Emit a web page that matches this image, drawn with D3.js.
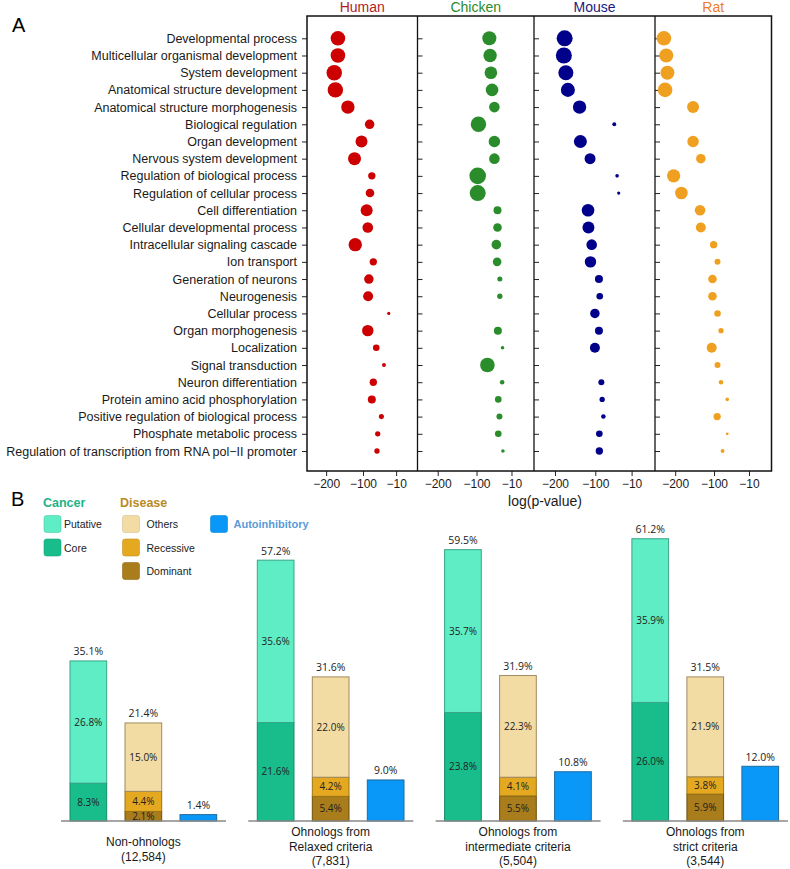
<!DOCTYPE html>
<html><head><meta charset="utf-8">
<script src="https://cdn.jsdelivr.net/npm/d3@7"></script>
<style>body{margin:0;background:#fff}</style>
</head><body>
<svg id="chart" width="790" height="869"></svg>
<script>
// ---------- Panel A data ----------
const categories = [
  "Developmental process","Multicellular organismal development","System development",
  "Anatomical structure development","Anatomical structure morphogenesis","Biological regulation",
  "Organ development","Nervous system development","Regulation of biological process",
  "Regulation of cellular process","Cell differentiation","Cellular developmental process",
  "Intracellular signaling cascade","Ion transport","Generation of neurons","Neurogenesis",
  "Cellular process","Organ morphogenesis","Localization","Signal transduction",
  "Neuron differentiation","Protein amino acid phosphorylation",
  "Positive regulation of biological process","Phosphate metabolic process",
  "Regulation of transcription from RNA pol\u2212II promoter"
];
const species = ["Human","Chicken","Mouse","Rat"];
const humanLogP   = [-168,-168,-178,-175,-141,-82,-104,-123,-76,-81,-90,-87,-121,-72,-84,-86,-30,-87,-64,-43,-72,-76,-50,-60,-62];
const humanSize   = [83,83,93,93,70,35,56,66,21,29,56,44,70,21,35,39,4,51,17,6,21,25,10,11,11];
const chickenLogP = [-67,-65,-63,-60,-54,-95,-54,-54,-97,-97,-46,-46,-49,-47,-40,-40,null,-45,-33,-72,-34,-44,-41,-44,-32];
const chickenSize = [77,70,62,62,44,93,51,44,108,100,25,29,36,29,10,11,null,25,5,83,8,17,14,17,5];
const mouseLogP   = [-176,-178,-173,-168,-139,-53,-137,-113,-46,-42,-118,-117,-109,-112,-91,-89,-101,-91,-101,null,-85,-83,-80,-90,-90];
const mouseSize   = [100,100,88,77,70,6,66,47,5,4,62,56,44,51,25,17,35,25,39,null,14,11,8,17,21];
const ratLogP     = [-229,-223,-220,-226,-154,null,-154,-134,-204,-184,-136,-134,-101,-91,-104,-104,-91,-82,-106,-91,-82,-66,-92,-66,-78];
const ratSize     = [83,77,77,83,56,null,51,35,70,62,44,39,21,14,29,29,17,11,39,14,8,5,21,3,6];
const xTicks = [-200,-100,-10];
const xLabel = "log(p-value)";

// ---------- Panel B data ----------
const groupNames = ["Non-ohnologs","Ohnologs from\nRelaxed criteria","Ohnologs from\nintermediate criteria","Ohnologs from\nstrict criteria"];
const groupCounts = ["(12,584)","(7,831)","(5,504)","(3,544)"];
const cancerCore = [8.3,21.6,23.8,26.0];
const cancerPutative = [26.8,35.6,35.7,35.9];
const cancerTotal = ["35.1%","57.2%","59.5%","61.2%"];
const diseaseDominant = [2.1,5.4,5.5,5.9];
const diseaseRecessive = [4.4,4.2,4.1,3.8];
const diseaseOthers = [15.0,22.0,22.3,21.9];
const diseaseTotal = ["21.4%","31.6%","31.9%","31.5%"];
const autoinhibitory = [1.4,9.0,10.8,12.0];

// ---------- styles ----------
const speciesColor = {Human:"#CC0000", Chicken:"#2A8C2A", Mouse:"#00008B", Rat:"#F0A020"};
const speciesTitleColor = {Human:"#B01E1E", Chicken:"#2A8C2A", Mouse:"#1A1A80", Rat:"#F07D2A"};
const segColor = {core:"#18BD8B", putative:"#5EEDC4", dominant:"#A97C1C", recessive:"#E4A920", others:"#F3DCA4", auto:"#0A98F8"};
const segStroke = {core:"#138a66", putative:"#3aa587", dominant:"#6c5012", recessive:"#9a7415", others:"#a08a5e", auto:"#1d6aa0"};
const sans = "'Liberation Sans', Arial, sans-serif";
const numFont = "'Open Sans', sans-serif";

const svg = d3.select("#chart");

// ================= PANEL A =================
svg.append("text").attr("x",12).attr("y",32).attr("font-family",sans).attr("font-size",20).text("A");

const edges = [307, 417.5, 534, 655, 771.5];
const topY = 16, bottomY = 471;
const y = d3.scalePoint().domain(categories).range([38.3, 451]);
const rScale = d3.scaleSqrt().domain([0,100]).range([0,8]);
const speciesData = {
  Human: [humanLogP, humanSize], Chicken: [chickenLogP, chickenSize],
  Mouse: [mouseLogP, mouseSize], Rat: [ratLogP, ratSize]
};

species.forEach((sp,i) => {
  const x0 = edges[i], x1 = edges[i+1];
  const x = d3.scaleLinear().domain([-252, 48]).range([x0, x1]);
  const g = svg.append("g");
  g.append("text").attr("x",(x0+x1)/2).attr("y",12).attr("text-anchor","middle")
    .attr("font-family",sans).attr("font-size",14).attr("fill",speciesTitleColor[sp]).text(sp);
  if (i === 0) {
    const ax = g.append("g").attr("transform",`translate(${x0},0)`)
      .call(d3.axisLeft(y).tickSize(5).tickPadding(5));
    ax.select(".domain").remove();
    ax.selectAll("text").attr("font-family",sans).attr("font-size",12.5).attr("fill","#1a1a1a");
    ax.selectAll("line").attr("stroke","#222");
  } else {
    const ax = g.append("g").attr("transform",`translate(${x0},0)`)
      .call(d3.axisRight(y).tickSize(5).tickFormat(""));
    ax.select(".domain").remove();
    ax.selectAll("line").attr("stroke","#222");
  }
  const xa = g.append("g").attr("transform",`translate(0,${bottomY})`)
    .call(d3.axisBottom(x).tickValues(xTicks).tickSize(5).tickPadding(3));
  xa.select(".domain").remove();
  xa.selectAll("text").attr("font-family",sans).attr("font-size",12).attr("fill","#1a1a1a");
  xa.selectAll("line").attr("stroke","#222");
  const [vals, sizes] = speciesData[sp];
  const pts = categories.map((c,k) => ({c, v: vals[k], s: sizes[k]})).filter(d => d.v !== null);
  g.selectAll("circle").data(pts).join("circle")
    .attr("cx", d => x(d.v)).attr("cy", d => y(d.c)).attr("r", d => rScale(d.s))
    .attr("fill", speciesColor[sp]);
  if (i > 0) g.append("line").attr("x1",x0).attr("x2",x0).attr("y1",topY).attr("y2",bottomY)
    .attr("stroke","#111").attr("stroke-width",1.3);
});
svg.append("rect").attr("x",edges[0]).attr("y",topY).attr("width",edges[4]-edges[0]).attr("height",bottomY-topY)
  .attr("fill","none").attr("stroke","#111").attr("stroke-width",1.5);
svg.append("text").attr("x",545).attr("y",506).attr("text-anchor","middle")
  .attr("font-family",sans).attr("font-size",14).attr("fill","#1a1a1a").text(xLabel);

// ================= PANEL B =================
svg.append("text").attr("x",11).attr("y",506).attr("font-family",sans).attr("font-size",20).text("B");

const legendHeads = [
  {t:"Cancer", x:43, color:"#1DB385"},
  {t:"Disease", x:120, color:"#B98B25"}
];
legendHeads.forEach(h => svg.append("text").attr("x",h.x).attr("y",506.5).attr("font-family",sans)
  .attr("font-weight","bold").attr("font-size",12.5).attr("fill",h.color).text(h.t));
const legendItems = [
  {key:"putative", label:"Putative", col:0, row:0},
  {key:"core", label:"Core", col:0, row:1},
  {key:"others", label:"Others", col:1, row:0},
  {key:"recessive", label:"Recessive", col:1, row:1},
  {key:"dominant", label:"Dominant", col:1, row:2},
  {key:"auto", label:"Autoinhibitory", col:2, row:0}
];
const legX = [44, 122.5, 210.5];
legendItems.forEach(it => {
  const lx = legX[it.col], ly = 515.5 + it.row*23.5;
  svg.append("rect").attr("x",lx).attr("y",ly).attr("width",17).attr("height",17).attr("rx",2.5)
    .attr("fill",segColor[it.key]).attr("stroke",d3.color(segColor[it.key]).darker(0.4)).attr("stroke-width",0.6);
  const tx = svg.append("text").attr("x",lx+ (it.col===1?24:20)).attr("y",ly+12.5).attr("font-family",sans)
    .attr("font-size",it.key==="auto"?11:10.5).attr("fill",it.key==="auto"?"#5A9BD8":"#222").text(it.label);
  if (it.key==="auto") tx.attr("font-weight","bold").attr("x",lx+23);
});

const gx = d3.scaleBand().domain(groupNames).range([52, 52+4*187.3]);
const ix = d3.scaleBand().domain(["cancer","disease","auto"]).range([18, 164.7]).paddingInner(0.333);
const yB = d3.scaleLinear().domain([0,100]).range([821, 365]);

groupNames.forEach((gName, gi) => {
  const gx0 = gx(gName);
  const g = svg.append("g").attr("transform",`translate(${gx0},0)`);
  const stacks = [
    {bar:"cancer", segs:[{k:"core",v:cancerCore[gi]},{k:"putative",v:cancerPutative[gi]}], total:cancerTotal[gi]},
    {bar:"disease", segs:[{k:"dominant",v:diseaseDominant[gi]},{k:"recessive",v:diseaseRecessive[gi]},{k:"others",v:diseaseOthers[gi]}], total:diseaseTotal[gi]},
    {bar:"auto", segs:[{k:"auto",v:autoinhibitory[gi]}], total:autoinhibitory[gi].toFixed(1)+"%", noInner:true}
  ];
  stacks.forEach(st => {
    let cum = 0;
    const bx = ix(st.bar), bw = ix.bandwidth();
    st.segs.forEach(s => {
      const y0 = yB(cum), y1 = yB(cum + s.v);
      g.append("rect").attr("x",bx).attr("y",y1).attr("width",bw).attr("height",y0-y1)
        .attr("fill",segColor[s.k]).attr("stroke",segStroke[s.k]).attr("stroke-width",1);
      if (!st.noInner) {
        g.append("text").attr("x",bx+bw/2).attr("y",(y0+y1)/2+3.6).attr("text-anchor","middle")
          .attr("font-family",numFont).attr("font-size",10).attr("fill","#222")
          .text(s.v.toFixed(1)+"%");
      }
      cum += s.v;
    });
    g.append("text").attr("x",bx+bw/2).attr("y",yB(cum)-5.5).attr("text-anchor","middle")
      .attr("font-family",numFont).attr("font-size",10.5).attr("fill","#222").text(st.total);
  });
  g.append("line").attr("x1",9).attr("x2",174).attr("y1",821).attr("y2",821)
    .attr("stroke","#888").attr("stroke-width",1.5);
  const lines = gName.split("\n").concat([groupCounts[gi]]);
  const startY = lines.length === 2 ? 846 : 836;
  lines.forEach((ln,li) => g.append("text").attr("x",ix("disease")+ix.bandwidth()/2)
    .attr("y",startY + li*14.5).attr("text-anchor","middle").attr("font-family",sans)
    .attr("font-size",12).attr("fill","#1a1a1a").text(ln));
});
</script>
</body></html>
